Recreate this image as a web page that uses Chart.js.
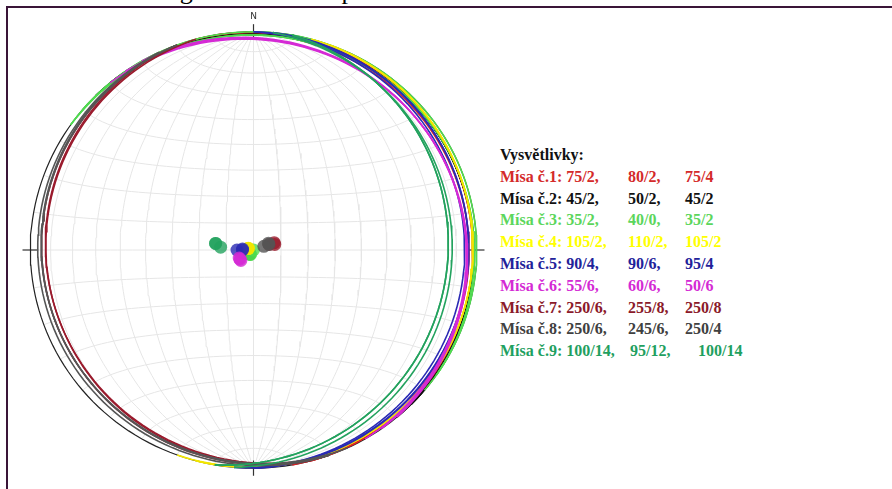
<!DOCTYPE html>
<html>
<head>
<meta charset="utf-8">
<script src="https://cdn.jsdelivr.net/npm/chart.js@4.4.0/dist/chart.umd.min.js"></script>
<style>
  body { margin:0; width:892px; height:489px; background:#fff; overflow:hidden; position:relative; }
  #title { position:absolute; left:8px; top:-24px; font:26px "Liberation Serif", serif; color:#000; white-space:nowrap; }
  #frame { position:absolute; left:6px; top:6px; right:0; bottom:-5px; border-top:2px solid #3a1538; border-left:2px solid #3a1538; }
  #net { position:absolute; left:8px; top:10px; }
  #legend { position:absolute; left:500px; top:144px; font:bold 16px "Liberation Serif", serif; line-height:21.8px; white-space:nowrap; }
  #legend div { position:relative; height:21.8px; }
  #legend span { position:absolute; top:0; }
</style>
</head>
<body>
<div id="title">Graf č. 1: Stereogram orientace ploch misek</div>
<div id="frame"></div>
<canvas id="net" width="491" height="480"></canvas>
<div id="legend"></div>
<script>
// data: směr sklonu / sklon, tři měření pro každou mísu
const misy = ['Mísa č.1', 'Mísa č.2', 'Mísa č.3', 'Mísa č.4', 'Mísa č.5', 'Mísa č.6', 'Mísa č.7', 'Mísa č.8', 'Mísa č.9'];
const dipDir = [[75, 80, 75], [45, 50, 45], [35, 40, 35], [105, 110, 105], [90, 90, 95], [55, 60, 50], [250, 255, 250], [250, 245, 250], [100, 95, 100]];
const dip = [[2, 2, 4], [2, 2, 2], [2, 0, 2], [2, 2, 2], [4, 6, 4], [6, 6, 6], [6, 8, 8], [6, 6, 4], [14, 12, 14]];
const lineColors = ['#e02424', '#111111', '#4fdc4f', '#f2e600', '#2a2ab4', '#d52ad5', '#9a1a2c', '#555555', '#23a25e'];
const textColors = ['#d42a2a', '#111111', '#5cd65c', '#ffff00', '#22229a', '#d42ad4', '#8b1a2a', '#404040', '#1fa060'];
const gridSteps = [10, 20, 30, 40, 50, 60, 70, 80, 90];

const rad = Math.PI / 180;

// plochojevná projekce, dolní polokoule
function proj(e, n, d) {
  if (d < 0) { e = -e; n = -n; d = -d; }
  const k = Math.sqrt(1 / (1 + d));
  return { x: e * k, y: n * k };
}

function greatCircle(dd, dp) {
  const pts = [];
  const sa = (dd - 90) * rad, a = dd * rad, b = dp * rad;
  const s = [Math.sin(sa), Math.cos(sa), 0];
  const v = [Math.sin(a) * Math.cos(b), Math.cos(a) * Math.cos(b), Math.sin(b)];
  for (let t = 0; t <= 180; t += 2) {
    const c = Math.cos(t * rad), si = Math.sin(t * rad);
    pts.push(proj(s[0] * c + v[0] * si, s[1] * c + v[1] * si, s[2] * c + v[2] * si));
  }
  return pts;
}

function pole(dd, dp) {
  const a = (dd + 180) * rad, p = (90 - dp) * rad;
  return proj(Math.sin(a) * Math.cos(p), Math.cos(a) * Math.cos(p), Math.sin(p));
}

function smallCircle(g, sign) {
  const pts = [];
  for (let f = 0; f <= 180; f += 3) {
    pts.push(proj(Math.sin(g * rad) * Math.cos(f * rad), sign * Math.cos(g * rad), Math.sin(g * rad) * Math.sin(f * rad)));
  }
  return pts;
}

function lineSet(data, color, width, order) {
  return { type: 'line', data: data, borderColor: color, borderWidth: width, pointRadius: 0, pointHoverRadius: 0, fill: false, tension: 0, order: order };
}

const datasets = [];

// síť
gridSteps.forEach(g => {
  datasets.push(lineSet(greatCircle(90, g), '#e6e6e6', 1, 50));
  if (g < 90) datasets.push(lineSet(greatCircle(270, g), '#e6e6e6', 1, 50));
  datasets.push(lineSet(smallCircle(g, 1), '#e6e6e6', 1, 50));
  if (g < 90) datasets.push(lineSet(smallCircle(g, -1), '#e6e6e6', 1, 50));
});

// primitivní kružnice + značky
const prim = [];
for (let t = 0; t <= 360; t += 2) prim.push({ x: Math.sin(t * rad), y: Math.cos(t * rad) });
datasets.push(lineSet(prim, '#222', 1.2, 40));
[[0, 1], [1, 0], [0, -1], [-1, 0]].forEach(([ex, ny]) => {
  datasets.push(lineSet([{ x: ex * 0.965, y: ny * 0.965 }, { x: ex * 1.035, y: ny * 1.035 }], '#333', 1.2, 40));
});

// plochy
misy.forEach((m, i) => {
  dipDir[i].forEach((dd, j) => {
    datasets.push(lineSet(greatCircle(dd, dip[i][j]), lineColors[i], 1.6, 20 - i));
  });
});

// póly
misy.forEach((m, i) => {
  datasets.push({
    type: 'scatter',
    data: dipDir[i].map((dd, j) => pole(dd, dip[i][j])),
    backgroundColor: lineColors[i] + 'cc',
    borderWidth: 0,
    pointRadius: 6.5,
    order: 10 - i
  });
});

const northLabel = {
  id: 'northLabel',
  afterDraw(chart) {
    const ctx = chart.ctx;
    ctx.save();
    ctx.font = '9px "DejaVu Sans", sans-serif';
    ctx.fillStyle = '#333';
    ctx.textAlign = 'center';
    ctx.textBaseline = 'middle';
    ctx.fillText('N', chart.scales.x.getPixelForValue(0), chart.scales.y.getPixelForValue(1.071));
    ctx.restore();
  }
};

new Chart(document.getElementById('net'), {
  type: 'scatter',
  data: { datasets: datasets },
  options: {
    responsive: false,
    maintainAspectRatio: false,
    animation: false,
    layout: { padding: 0, autoPadding: false },
    plugins: { legend: { display: false }, tooltip: { enabled: false } },
    scales: {
      x: { type: 'linear', min: -1.1, max: 1.1, display: false },
      y: { type: 'linear', min: -1.1, max: 1.1, display: false }
    }
  },
  plugins: [northLabel]
});

// legenda
const legend = document.getElementById('legend');
const head = document.createElement('div');
head.innerHTML = '<span style="left:0;color:#111">Vysvětlivky:</span>';
legend.appendChild(head);
misy.forEach((m, i) => {
  const vals = dipDir[i].map((dd, j) => dd + '/' + dip[i][j]);
  const c2 = i === 8 ? 130 : 128, c3 = i === 8 ? 198 : 185;
  const row = document.createElement('div');
  row.style.color = textColors[i];
  row.innerHTML = '<span style="left:0">' + m + ': ' + vals[0] + ',</span>' +
    '<span style="left:' + c2 + 'px">' + vals[1] + ',</span>' +
    '<span style="left:' + c3 + 'px">' + vals[2] + '</span>';
  legend.appendChild(row);
});
</script>
</body>
</html>
